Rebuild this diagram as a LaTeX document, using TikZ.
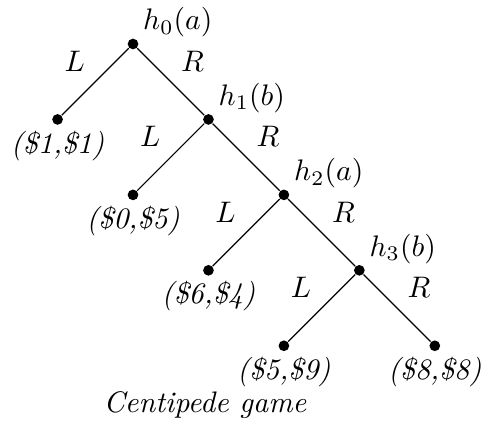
\documentclass[tikz,border=0pt]{standalone}
\usepackage{amsmath}
\usetikzlibrary{positioning}
\begin{document}
\begin{tikzpicture}[x=0.893cm,y=0.893cm,
    dot/.style={circle,fill=black,inner sep=0pt,minimum size=3.6pt},
    player/.style={label distance=0pt,xshift=-1.5pt,yshift=-2.7pt},
    payoff/.style={font=\itshape,label distance=-1.7pt}]
    \useasboundingbox (-1.763,0.583) rectangle (4.652,-5.142);
    % decision nodes along the spine
    \node[dot,label={[player]above right:$h_0(a)$}] (h0) at (0,0) {};
    \node[dot,label={[player]above right:$h_1(b)$}] (h1) at (1,-1) {};
    \node[dot,label={[player]above right:$h_2(a)$}] (h2) at (2,-2) {};
    \node[dot,label={[player]above right:$h_3(b)$}] (h3) at (3,-3) {};
    % terminal nodes with payoffs
    \node[dot,label={[payoff]below:(\$1,\$1)}] (t1) at (-1,-1) {};
    \node[dot,label={[payoff]below:(\$0,\$5)}] (t2) at (0,-2) {};
    \node[dot,label={[payoff]below:(\$6,\$4)}] (t3) at (1,-3) {};
    \node[dot,label={[payoff]below:(\$5,\$9)}] (t4) at (2,-4) {};
    \node[dot,label={[payoff]below:(\$8,\$8)}] (t5) at (4,-4) {};
    % moves
    \draw (h0) -- node[above left] {$L$} (t1);
    \draw (h0) -- node[above right] {$R$} (h1);
    \draw (h1) -- node[above left] {$L$} (t2);
    \draw (h1) -- node[above right] {$R$} (h2);
    \draw (h2) -- node[above left] {$L$} (t3);
    \draw (h2) -- node[above right] {$R$} (h3);
    \draw (h3) -- node[above left] {$L$} (t4);
    \draw (h3) -- node[above right] {$R$} (t5);
    \node[payoff] (caption) at (0.954,-4.78) {Centipede game};
\end{tikzpicture}
\end{document}
